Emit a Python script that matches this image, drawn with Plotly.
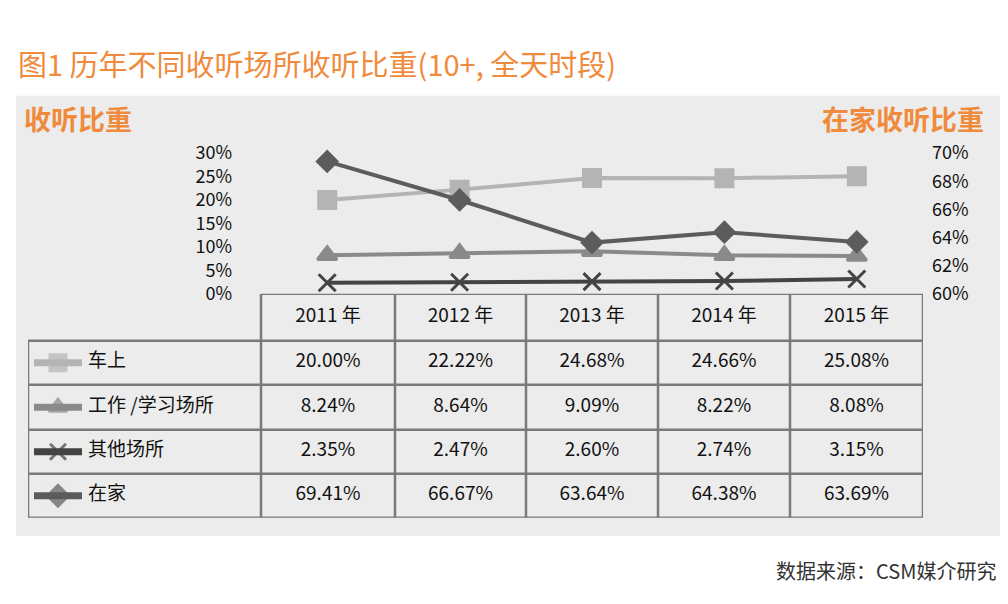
import plotly.graph_objects as go

years = ['2011 年', '2012 年', '2013 年', '2014 年', '2015 年']
car = [20.00, 22.22, 24.68, 24.66, 25.08]
work = [8.24, 8.64, 9.09, 8.22, 8.08]
other = [2.35, 2.47, 2.60, 2.74, 3.15]
home = [69.41, 66.67, 63.64, 64.38, 63.69]
names = ['车上', '工作 /学习场所', '其他场所', '在家']
colors = ['#b4b4b4', '#8a8a8a', '#444444', '#5c5c5c']
symbols = ['square', 'triangle-up', 'x-thin-open', 'diamond']
series = [car, work, other, home]

W, H = 1008, 604
FONT = 'Noto Sans CJK SC'
col_x = [253, 387, 518, 650, 782, 915]
row_y = [283, 332, 378, 425, 471, 517]


def px(x):
    return x / W


def py(y):
    return 1 - y / H


fig = go.Figure()

# lines over the chart
for i, (name, vals) in enumerate(zip(names, series)):
    fig.add_trace(go.Scatter(
        x=years, y=vals, mode='lines+markers', name=name,
        yaxis='y2' if name == '在家' else 'y',
        line=dict(color=colors[i], width=4),
        marker=dict(symbol=symbols[i], size=17 if i < 3 else 15, color=colors[i],
                    line=dict(color=colors[i], width=3)),
        showlegend=False, cliponaxis=False))

# table on its own pixel-like axes
shapes = []
for x in col_x:
    shapes.append(dict(type='line', xref='x3', yref='y3', x0=x, x1=x, y0=283, y1=517,
                       line=dict(color='#7a7a7a', width=2.5)))
shapes.append(dict(type='line', xref='x3', yref='y3', x0=20, x1=20, y0=332, y1=517,
                   line=dict(color='#7a7a7a', width=2.5)))
for j, y in enumerate(row_y):
    shapes.append(dict(type='line', xref='x3', yref='y3', x0=col_x[0] if j == 0 else 20, x1=915, y0=y, y1=y,
                       line=dict(color='#7a7a7a', width=2.5)))
# panel background
shapes.insert(0, dict(type='rect', xref='paper', yref='paper', x0=px(8), x1=px(996), y0=py(536), y1=py(76),
                      fillcolor='#ececec', line=dict(width=0), layer='below'))

centers = [(col_x[k] + col_x[k + 1]) / 2 for k in range(5)]
fig.add_trace(go.Scatter(x=centers, y=[(row_y[0] + row_y[1]) / 2] * 5, text=years, mode='text',
                         textfont=dict(size=19, color='#111', family=FONT), xaxis='x3', yaxis='y3', showlegend=False))
for i, vals in enumerate(series):
    yc = (row_y[i + 1] + row_y[i + 2]) / 2
    fig.add_trace(go.Scatter(x=centers, y=[yc] * 5, text=['%.2f%%' % v for v in vals], mode='text',
                             textfont=dict(size=19, color='#111', family=FONT), xaxis='x3', yaxis='y3', showlegend=False))
    fig.add_trace(go.Scatter(x=[26, 50, 74], y=[yc] * 3, mode='lines+markers', xaxis='x3', yaxis='y3',
                             line=dict(color=colors[i], width=7),
                             marker=dict(symbol=symbols[i], size=[0, 16, 0], color=colors[i],
                                         line=dict(color=colors[i], width=3)), showlegend=False))
    fig.add_trace(go.Scatter(x=[80], y=[yc], text=[names[i]], mode='text', textposition='middle right',
                             textfont=dict(size=19, color='#111', family=FONT), xaxis='x3', yaxis='y3', showlegend=False))

annotations = [
    dict(text='图1 历年不同收听场所收听比重(10+, 全天时段)', x=px(8), y=py(42), xref='paper', yref='paper',
         xanchor='left', yanchor='middle', showarrow=False, font=dict(size=29, color='#f08a3c', family=FONT)),
    dict(text='<b>收听比重</b>', x=px(14), y=py(100), xref='paper', yref='paper',
         xanchor='left', yanchor='middle', showarrow=False, font=dict(size=27, color='#f08a3c', family=FONT)),
    dict(text='<b>在家收听比重</b>', x=px(978), y=py(100), xref='paper', yref='paper',
         xanchor='right', yanchor='middle', showarrow=False, font=dict(size=27, color='#f08a3c', family=FONT)),
    dict(text='数据来源：CSM媒介研究', x=px(990), y=py(572), xref='paper', yref='paper',
         xanchor='right', yanchor='middle', showarrow=False, font=dict(size=20, color='#333', family=FONT)),
]

fig.update_layout(
    autosize=True, margin=dict(l=0, r=0, t=0, b=0),
    paper_bgcolor='white', plot_bgcolor='rgba(0,0,0,0)',
    font=dict(family=FONT),
    xaxis=dict(domain=[px(253), px(915)], range=[-0.5, 4.5], showticklabels=False, showgrid=False,
               zeroline=False, showline=False),
    yaxis=dict(domain=[py(283), py(136)], range=[0, 30], tickvals=[0, 5, 10, 15, 20, 25, 30],
               ticktext=['0%', '5%', '10%', '15%', '20%', '25%', '30%'], showgrid=False, zeroline=False,
               ticks='', tickfont=dict(size=18, color='#111'), ticklabelstandoff=28),
    yaxis2=dict(overlaying='y', side='right', range=[60, 70], tickvals=[60, 62, 64, 66, 68, 70],
                ticktext=['60%', '62%', '64%', '66%', '68%', '70%'], showgrid=False, zeroline=False,
                ticks='', tickfont=dict(size=18, color='#111'), ticklabelstandoff=8),
    xaxis3=dict(domain=[px(20), px(915)], range=[20, 915], visible=False),
    yaxis3=dict(domain=[py(517), py(283)], range=[517, 283], visible=False),
    shapes=shapes, annotations=annotations,
)

fig.write_html('out.html', default_height='100vh', default_width='100vw',
               config={'responsive': True})
